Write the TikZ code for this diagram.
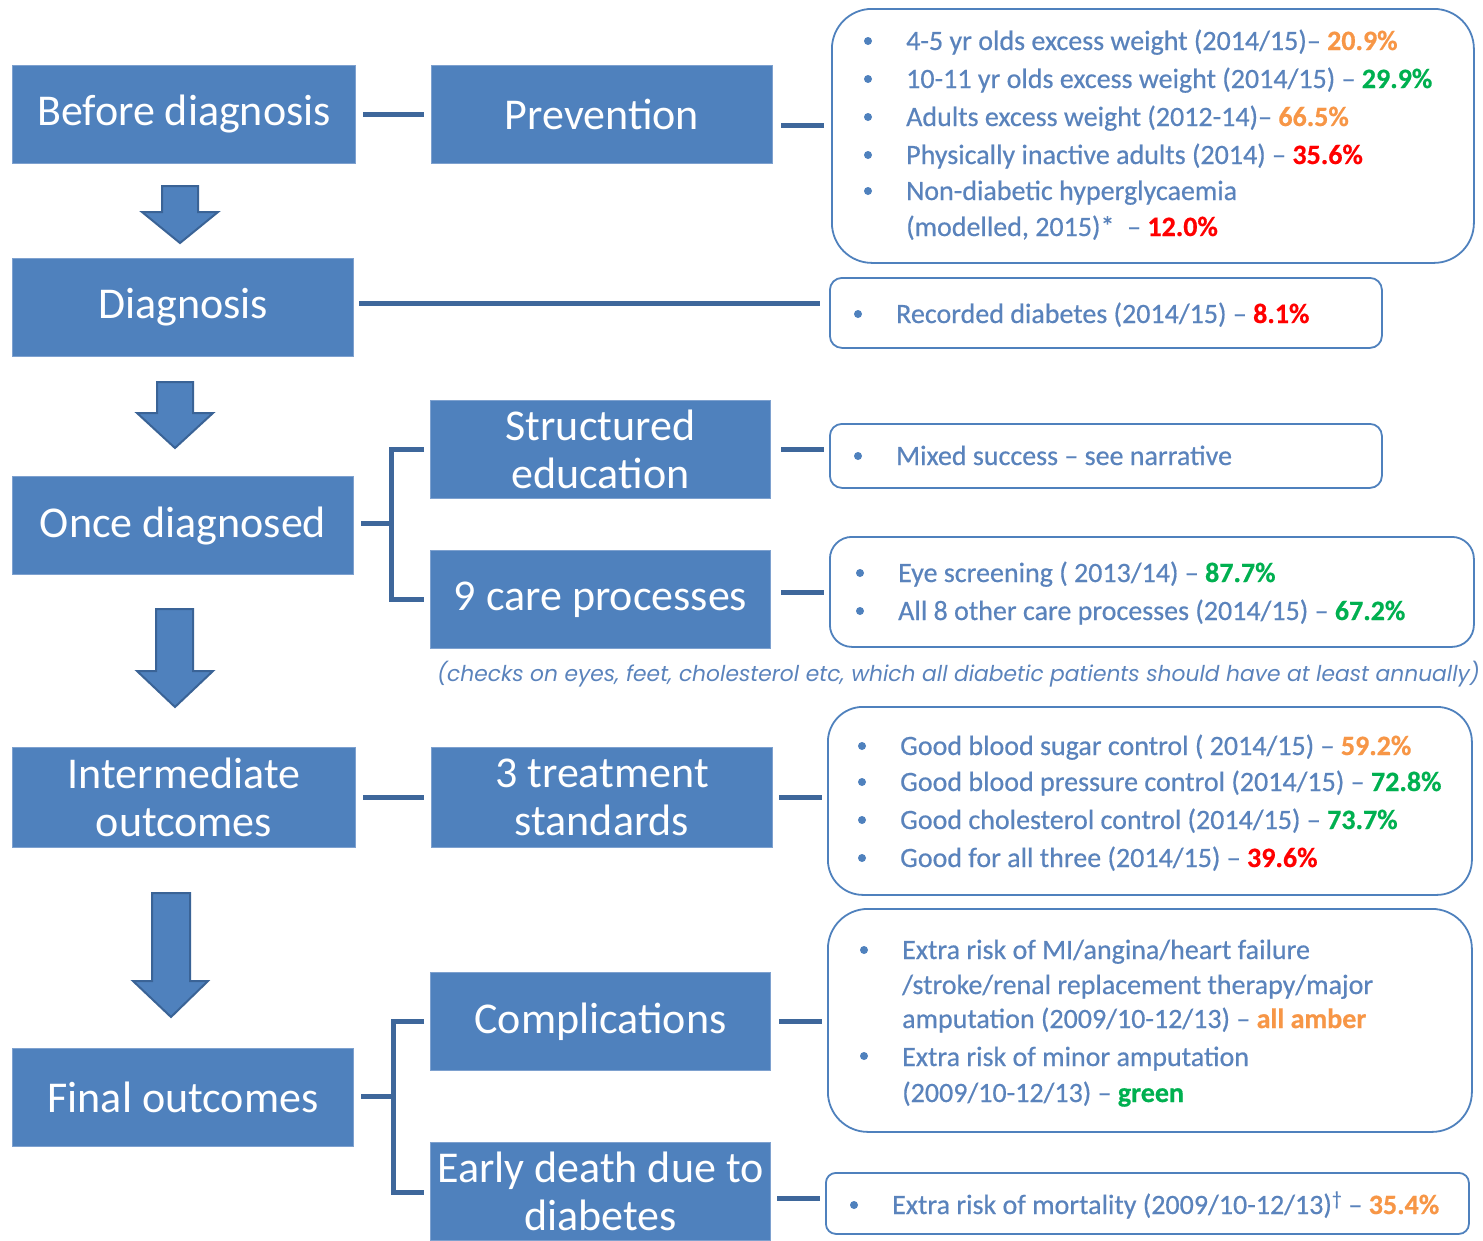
\documentclass[tikz,border=0pt]{standalone}
\usepackage{fontspec}
\setmainfont{Carlito}
\newfontfamily\itemfont{Carlito}[FakeBold=0.5]
\newfontfamily\notefont{Poppins}
\usetikzlibrary{calc}
\definecolor{boxblue}{HTML}{4F81BD}
\definecolor{boxedge}{HTML}{7EA1CF}
\definecolor{linkblue}{HTML}{3E679B}
\definecolor{arrowedge}{HTML}{3A6396}
\definecolor{txtblue}{HTML}{5A83BC}
\definecolor{amber}{HTML}{F79646}
\definecolor{grn}{HTML}{00B050}
\definecolor{rd}{HTML}{FF0000}
\newcommand{\val}[2]{\textbf{\color{#1}#2}}
\begin{document}
\begin{tikzpicture}[x=1pt,y=-1pt,
  stage/.style={draw=boxedge, fill=boxblue, line width=1pt, text=white, align=center,
    inner sep=0pt, anchor=north west, font=\fontsize{44}{48}\selectfont},
  infobox/.style={draw=boxblue, line width=1.8pt, fill=white, inner sep=0pt, anchor=north west},
  item/.style={anchor=base west, inner sep=0pt, text=txtblue, font=\itemfont\fontsize{28}{32}\selectfont},
  link/.style={draw=linkblue, line width=5pt},
  downarrow/.style={fill=boxblue, draw=arrowedge, line width=2pt, line join=miter},
  dot/.style={fill=boxblue}
]
\useasboundingbox (0,0) rectangle (1483,1240);

% ---- stage boxes (left column)
\node[stage, minimum width=343, minimum height=98] (before) at (12,65) {Before diagnosis};
\node[stage, minimum width=341, minimum height=98] (diag) at (12,258) {Diagnosis};
\node[stage, minimum width=341, minimum height=98] (once) at (12,476) {Once diagnosed};
\node[stage, minimum width=343, minimum height=100] (inter) at (12,747) {Intermediate\\outcomes};
\node[stage, minimum width=341, minimum height=98] (final) at (12,1048) {Final outcomes};

% ---- middle column
\node[stage, minimum width=341, minimum height=98] (prev) at (431,65) {Prevention};
\node[stage, minimum width=340, minimum height=98] (struct) at (430,400) {Structured\\education};
\node[stage, minimum width=340, minimum height=98] (care) at (430,550) {9 care processes};
\node[stage, minimum width=341, minimum height=100] (treat) at (431,747) {3 treatment\\standards};
\node[stage, minimum width=340, minimum height=98] (comp) at (430,972) {Complications};
\node[stage, minimum width=340, minimum height=98] (death) at (430,1142) {Early death due to\\diabetes};

% ---- info boxes
\node[infobox, rounded corners=40, minimum width=642, minimum height=254] (ib1) at (831,8) {};
\node[infobox, rounded corners=12, minimum width=552, minimum height=70] (ib2) at (829,277) {};
\node[infobox, rounded corners=12, minimum width=552, minimum height=64] (ib3) at (829,423) {};
\node[infobox, rounded corners=22, minimum width=644, minimum height=110] (ib4) at (829,536) {};
\node[infobox, rounded corners=35, minimum width=644, minimum height=188] (ib5) at (827,706) {};
\node[infobox, rounded corners=40, minimum width=644, minimum height=223] (ib6) at (827,908) {};
\node[infobox, rounded corners=10, minimum width=643, minimum height=61] (ib7) at (825,1172) {};

% ---- down arrows
\draw[downarrow] (162,186) -- (198,186) -- (198,212) -- (218,212) -- (180,243) -- (142,212) -- (162,212) -- cycle;
\draw[downarrow] (157,382) -- (193,382) -- (193,413) -- (213,413) -- (175,448) -- (137,413) -- (157,413) -- cycle;
\draw[downarrow] (156,609) -- (193,609) -- (193,671) -- (213,671) -- (175,707) -- (137,671) -- (156,671) -- cycle;
\draw[downarrow] (152,893) -- (190,893) -- (190,981) -- (208,981) -- (171,1017) -- (133,981) -- (152,981) -- cycle;

% ---- connectors
\draw[link] ([xshift=7]before.east) -- ([xshift=-7]prev.west);
\draw[link] ($(prev.east)+(8,11)$) -- ($(ib1.west |- prev.east)+(-7,11)$);
\draw[link] ($(diag.east)+(5,-4)$) -- ($(ib2.west |- diag.east)+(-9,-4)$);
\coordinate (ob) at ($(once.east)+(37,-2)$);
\draw[link] ($(once.east)+(7,-2)$) -- (ob);
\draw[link, line join=miter] ([xshift=-6]struct.west) -| (ob) |- ([xshift=-6]care.west);
\draw[link] ([xshift=10]struct.east) -- ([xshift=-5]ib3.west |- struct.east);
\draw[link] ($(care.east)+(10,-7)$) -- ($(ib4.west |- care.east)+(-5,-7)$);
\draw[link] ([xshift=7]inter.east) -- ([xshift=-7]treat.west);
\draw[link] ([xshift=6]treat.east) -- ([xshift=-5]ib5.west |- treat.east);
\coordinate (fb) at ($(final.east)+(39,-1)$);
\draw[link] ($(final.east)+(7,-1)$) -- (fb);
\draw[link, line join=miter] ([xshift=-6]comp.west) -| (fb) |- ($(death.west)+(-6,1)$);
\draw[link] ([xshift=8]comp.east) -- ([xshift=-5]ib6.west |- comp.east);
\draw[link] ($(death.east)+(6,7)$) -- ($(ib7.west |- death.east)+(-5,7)$);

% ---- box 1 text
\foreach \y in {41,79,117,155,191} \fill[dot] (868,\y) circle (4);
\node[item] (t1a) at (906,50) {4-5 yr olds excess weight (2014/15)– \val{amber}{20.9\%}};
\node[item] (t1b) at (906,88) {10-11 yr olds excess weight (2014/15) – \val{grn}{29.9\%}};
\node[item] (t1c) at (906,126) {Adults excess weight (2012-14)– \val{amber}{66.5\%}};
\node[item] (t1d) at (906,164) {Physically inactive adults (2014) – \val{rd}{35.6\%}};
\node[item] (t1e) at (906,200) {Non-diabetic hyperglycaemia};
\node[item] (t1f) at (906,236) {(modelled, 2015)*\ \ – \val{rd}{12.0\%}};

% ---- box 2, 3
\fill[dot] (858,314) circle (4);
\node[item] (t2a) at (896,323) {Recorded diabetes (2014/15) – \val{rd}{8.1\%}};
\fill[dot] (858,456) circle (4);
\node[item] (t3a) at (896,465) {Mixed success – see narrative};

% ---- box 4
\foreach \y in {573,611} \fill[dot] (860,\y) circle (4);
\node[item] (t4a) at (898,582) {Eye screening ( 2013/14) – \val{grn}{87.7\%}};
\node[item] (t4b) at (898,620) {All 8 other care processes (2014/15) – \val{grn}{67.2\%}};

% ---- note
\node[anchor=west, inner sep=0pt, text=txtblue, font=\notefont\itshape\fontsize{21.8}{26}\selectfont] (note) at (437,674)
  {(checks on eyes, feet, cholesterol etc, which all diabetic patients should have at least annually)};

% ---- box 5
\foreach \y in {746,782,820,858} \fill[dot] (862,\y) circle (4);
\node[item] (t5a) at (900,755) {Good blood sugar control ( 2014/15) – \val{amber}{59.2\%}};
\node[item] (t5b) at (900,791) {Good blood pressure control (2014/15) – \val{grn}{72.8\%}};
\node[item] (t5c) at (900,829) {Good cholesterol control (2014/15) – \val{grn}{73.7\%}};
\node[item] (t5d) at (900,867) {Good for all three (2014/15) – \val{rd}{39.6\%}};

% ---- box 6
\foreach \y in {950,1056} \fill[dot] (864,\y) circle (4);
\node[item] (t6a) at (902,959) {Extra risk of MI/angina/heart failure};
\node[item] (t6b) at (902,994) {/stroke/renal replacement therapy/major};
\node[item] (t6c) at (902,1028) {amputation (2009/10-12/13) – \val{amber}{all amber}};
\node[item] (t6d) at (902,1066) {Extra risk of minor amputation};
\node[item] (t6e) at (902,1102) {(2009/10-12/13) – \val{grn}{green}};

% ---- box 7
\fill[dot] (854,1205) circle (4);
\node[item] (t7a) at (892,1214) {Extra risk of mortality (2009/10-12/13)\textsuperscript{†} – \val{amber}{35.4\%}};
\end{tikzpicture}
\end{document}
